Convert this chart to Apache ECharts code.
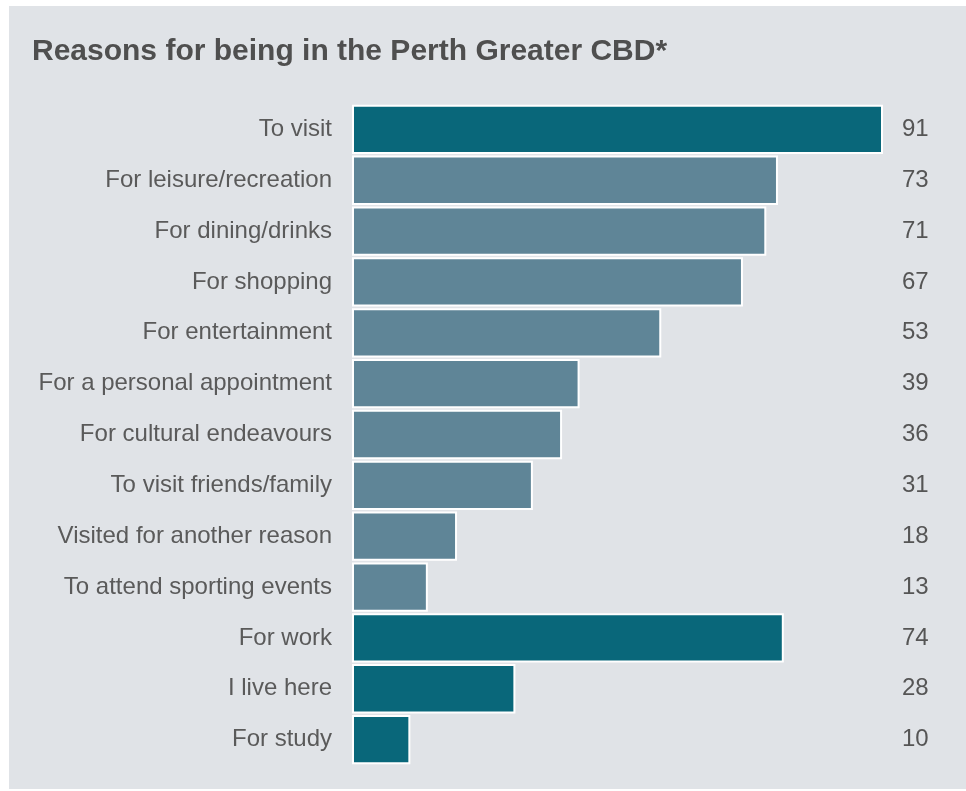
<!DOCTYPE html>
<html><head><meta charset="utf-8">
<script src="https://cdn.jsdelivr.net/npm/echarts@6/dist/echarts.min.js"></script>
<style>html,body{margin:0;padding:0;background:#fff}#c{width:966px;height:791px}</style>
</head><body><div id="c"></div>
<script>
const categories = ['To visit','For leisure/recreation','For dining/drinks','For shopping','For entertainment','For a personal appointment','For cultural endeavours','To visit friends/family','Visited for another reason','To attend sporting events','For work','I live here','For study'];
const values = [91,73,71,67,53,39,36,31,18,13,74,28,10];
const kinds = ['main','sub','sub','sub','sub','sub','sub','sub','sub','sub','main','main','main'];
const colors = {main:'#09677A', sub:'#5F8597'};
const chart = echarts.init(document.getElementById('c'));
chart.setOption({
  backgroundColor:'#ffffff',
  animation:false,
  graphic:[{type:'rect',z:-10,shape:{x:9,y:6,width:957,height:783},style:{fill:'#E0E3E7'}}],
  title:{text:'Reasons for being in the Perth Greater CBD*',left:32,top:37,padding:0,textStyle:{fontFamily:'Liberation Sans, Arial, sans-serif',fontSize:30,fontWeight:'bold',color:'#4F4F4F'}},
  grid:{left:352,right:83,top:104,bottom:26,containLabel:false},
  xAxis:{type:'value',min:0,max:91,show:false},
  yAxis:[{type:'category',inverse:true,data:categories,axisLine:{show:false},axisTick:{show:false},
    axisLabel:{margin:20,padding:[4,0,0,0],fontFamily:'Liberation Sans, Arial, sans-serif',fontSize:24,color:'#5A5A5A'}},
    {type:'category',inverse:true,position:'right',data:values.map(String),axisLine:{show:false},axisTick:{show:false},
    axisLabel:{margin:19,padding:[4,0,0,0],fontFamily:'Liberation Sans, Arial, sans-serif',fontSize:24,color:'#555555',align:'left'}}],
  series:[{type:'bar',data:values.map((v,i)=>({value:v,itemStyle:{color:colors[kinds[i]]}})),barCategoryGap:'3%',
    itemStyle:{borderColor:'#ffffff',borderWidth:2}}]
});
</script></body></html>
